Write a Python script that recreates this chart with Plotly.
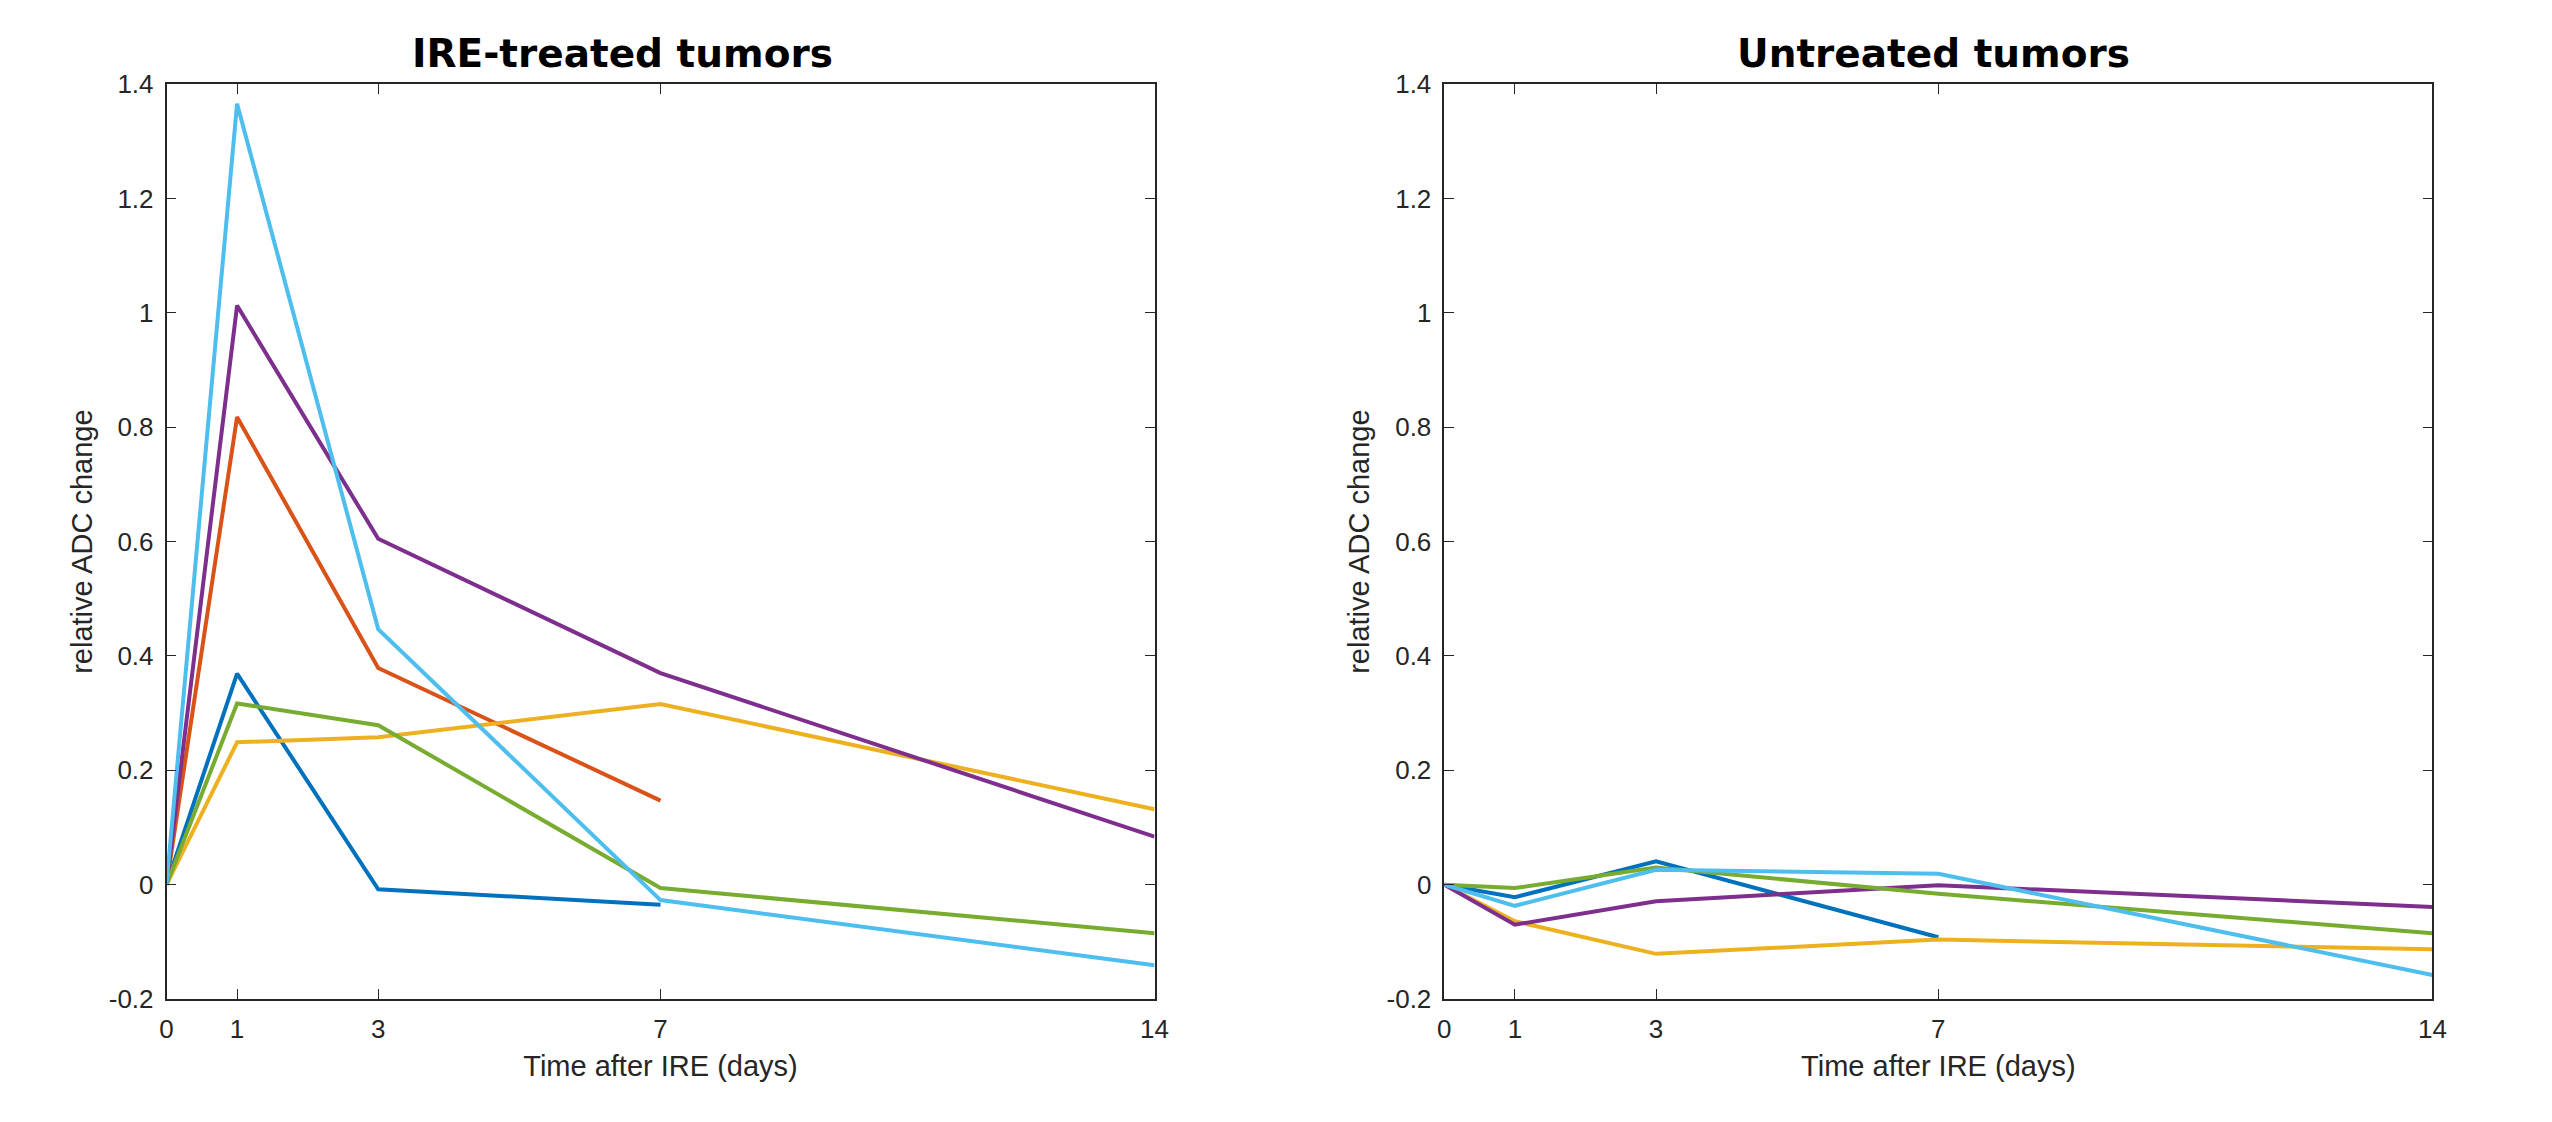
import plotly.graph_objects as go

days = [0, 1, 3, 7, 14]
x_tick_vals = [0, 1, 3, 7, 14]
x_tick_text = ["0", "1", "3", "7", "14"]
y_tick_vals = [-0.2, 0, 0.2, 0.4, 0.6, 0.8, 1.0, 1.2, 1.4]
y_tick_text = ["-0.2", "0", "0.2", "0.4", "0.6", "0.8", "1", "1.2", "1.4"]

# IRE-treated tumors
treated_blue = [0, 0.369, -0.008, -0.035, None]
treated_orange = [0, 0.818, 0.379, 0.147, None]
treated_yellow = [0, 0.249, 0.258, 0.316, 0.132]
treated_purple = [0, 1.013, 0.605, 0.370, 0.084]
treated_green = [0, 0.317, 0.279, -0.006, -0.085]
treated_lightblue = [0, 1.366, 0.447, -0.027, -0.141]

# Untreated tumors
untreated_blue = [0, -0.022, 0.041, -0.092, None]
untreated_yellow = [0, -0.064, -0.121, -0.096, -0.113]
untreated_purple = [0, -0.070, -0.029, -0.001, -0.039]
untreated_green = [0, -0.006, 0.030, -0.016, -0.085]
untreated_lightblue = [0, -0.037, 0.026, 0.019, -0.158]

C_BLUE = "#0072BD"
C_ORANGE = "#D95319"
C_YELLOW = "#EDB120"
C_PURPLE = "#7E2F8E"
C_GREEN = "#77AC30"
C_LBLUE = "#4DBEEE"

fig = go.Figure()

left = [(treated_blue, C_BLUE), (treated_orange, C_ORANGE), (treated_yellow, C_YELLOW),
        (treated_purple, C_PURPLE), (treated_green, C_GREEN), (treated_lightblue, C_LBLUE)]
right = [(untreated_blue, C_BLUE), (untreated_yellow, C_YELLOW), (untreated_purple, C_PURPLE),
         (untreated_green, C_GREEN), (untreated_lightblue, C_LBLUE)]

for vals, col in left:
    fig.add_trace(go.Scatter(x=days, y=vals, mode="lines", line=dict(color=col, width=4),
                             connectgaps=False, showlegend=False, xaxis="x", yaxis="y"))
for vals, col in right:
    fig.add_trace(go.Scatter(x=days, y=vals, mode="lines", line=dict(color=col, width=4),
                             connectgaps=False, showlegend=False, xaxis="x2", yaxis="y2"))

AX = "#262626"
tick_font = dict(family="Liberation Sans, Arial, sans-serif", size=26, color=AX)
label_font = dict(family="Liberation Sans, Arial, sans-serif", size=29, color=AX)

def xax(domain, anchor):
    return dict(domain=domain, anchor=anchor, range=[0, 14], tickmode="array",
                tickvals=x_tick_vals, ticktext=x_tick_text, ticks="inside", ticklen=10,
                tickwidth=1.2, tickcolor=AX, showline=True, linecolor=AX, linewidth=1.5,
                mirror="ticks", showgrid=False, zeroline=False, tickfont=tick_font,
                automargin=False,
                title=dict(text="Time after IRE (days)", font=label_font, standoff=13),
                ticklabelstandoff=6)

def yax(domain, anchor):
    return dict(domain=domain, anchor=anchor, range=[-0.2, 1.4], tickmode="array",
                tickvals=y_tick_vals, ticktext=y_tick_text, ticks="inside", ticklen=10,
                tickwidth=1.2, tickcolor=AX, showline=True, linecolor=AX, linewidth=1.5,
                mirror="ticks", showgrid=False, zeroline=False, tickfont=tick_font,
                automargin=False,
                title=dict(text="relative ADC change", font=label_font, standoff=8),
                ticklabelstandoff=6)

W, H = 2552, 1122
OFF = 8  # page body margin
ydom = [(H - 991) / H, (H - 76.3) / H]
fig.update_layout(
    template="none",
    width=W, height=H, autosize=False,
    margin=dict(l=0, r=0, t=0, b=0, pad=0),
    paper_bgcolor="white", plot_bgcolor="white",
    xaxis=xax([158.5 / W, 1146.5 / W], "y"),
    yaxis=yax(ydom, "x"),
    xaxis2=xax([1436.3 / W, 2424.4 / W], "y2"),
    yaxis2=yax(ydom, "x2"),
    annotations=[
        dict(text="<b>IRE-treated tumors</b>", x=(622 - OFF) / W, y=1 - (53 - OFF) / H,
             xref="paper", yref="paper", xanchor="center", yanchor="middle", showarrow=False,
             font=dict(family="DejaVu Sans", size=39, color="black")),
        dict(text="<b>Untreated tumors</b>", x=(1933 - OFF) / W, y=1 - (53 - OFF) / H,
             xref="paper", yref="paper", xanchor="center", yanchor="middle", showarrow=False,
             font=dict(family="DejaVu Sans", size=39, color="black")),
    ],
)

fig.write_html("out.html")
